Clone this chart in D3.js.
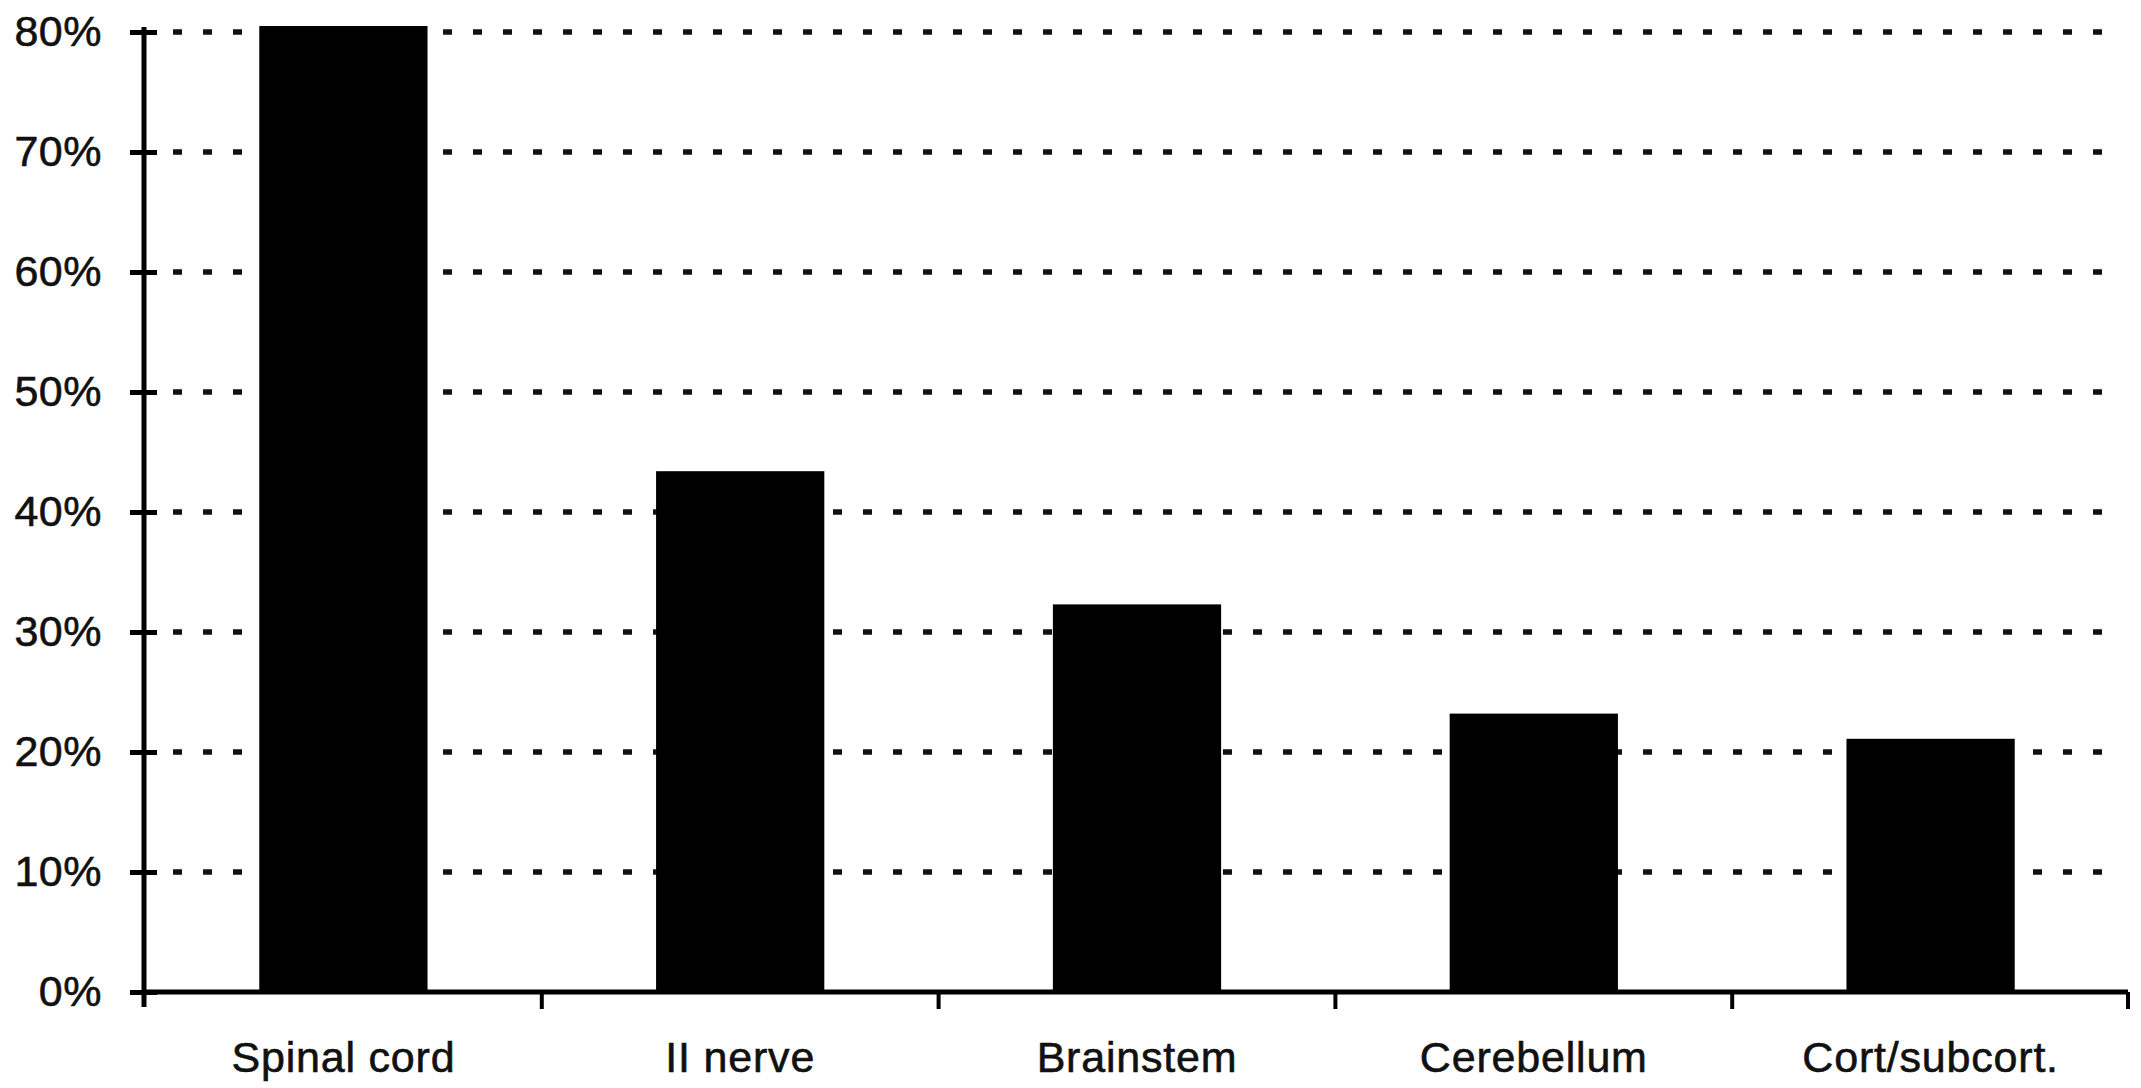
<!DOCTYPE html>
<html>
<head>
<meta charset="utf-8">
<script src="https://cdn.jsdelivr.net/npm/d3@7"></script>
<style>
  html, body { margin: 0; padding: 0; background: #fff; }
  svg { display: block; }
  text { font-family: "Liberation Sans", Arial, Helvetica, sans-serif; fill: #111; }
</style>
</head>
<body>
<svg id="chart" width="2141" height="1088"></svg>
<script>
const categories = ["Spinal cord", "II nerve", "Brainstem", "Cerebellum", "Cort/subcort."];
const values = [80.5, 43.4, 32.3, 23.2, 21.1];
const yTicks = [0, 10, 20, 30, 40, 50, 60, 70, 80];

(function () {
const svg = d3.select("#chart");
const plotLeft = 144, plotRight = 2128, plotTop = 32, plotBottom = 992;
const gridEnd = 2112;

const x = d3.scaleBand().domain(categories).range([plotLeft + 1, plotRight + 1])
  .paddingInner(0.576).paddingOuter(0.288);
const y = d3.scaleLinear().domain([0, 80]).range([plotBottom, plotTop]);

// dotted gridlines
svg.append("g").selectAll("line").data(yTicks.filter(d => d > 0)).join("line")
  .attr("x1", 173).attr("x2", gridEnd)
  .attr("y1", d => y(d)).attr("y2", d => y(d))
  .attr("stroke", "#111").attr("stroke-width", 5.5)
  .attr("stroke-dasharray", "9,21");

// bars
svg.append("g").selectAll("rect").data(categories).join("rect")
  .attr("x", d => x(d))
  .attr("width", x.bandwidth())
  .attr("y", (d, i) => y(values[i]))
  .attr("height", (d, i) => plotBottom - y(values[i]))
  .attr("fill", "#000");

// y axis
const yAxis = d3.axisLeft(y).tickValues(yTicks).tickFormat(d => d + "%")
  .tickSize(0).tickPadding(42);
const gy = svg.append("g").attr("transform", `translate(${plotLeft},0)`).call(yAxis);
gy.select(".domain").remove();
gy.selectAll("text").attr("font-size", 43).attr("letter-spacing", 0.5)
  .attr("font-family", "Liberation Sans, Arial, sans-serif").attr("fill", "#111")
  .attr("stroke", "#111").attr("stroke-width", 0.6);
gy.selectAll(".tick").append("line")
  .attr("x1", -14).attr("x2", 13).attr("stroke", "#000").attr("stroke-width", 5);
svg.append("line").attr("x1", plotLeft).attr("x2", plotLeft)
  .attr("y1", plotTop - 5).attr("y2", plotBottom + 15)
  .attr("stroke", "#000").attr("stroke-width", 5);

// x axis
svg.append("line").attr("x1", plotLeft).attr("x2", plotRight)
  .attr("y1", plotBottom).attr("y2", plotBottom)
  .attr("stroke", "#000").attr("stroke-width", 5);
const boundaries = categories.map(d => x(d) - x.step() * x.paddingInner() / 2).slice(1)
  .concat([plotRight]);
svg.append("g").selectAll("line").data(boundaries).join("line")
  .attr("x1", d => d).attr("x2", d => d)
  .attr("y1", plotBottom).attr("y2", plotBottom + 17)
  .attr("stroke", "#000").attr("stroke-width", 4);

const xAxis = d3.axisBottom(x).tickSize(0).tickPadding(80);
const gx = svg.append("g").attr("transform", `translate(0,${plotBottom})`).call(xAxis);
gx.select(".domain").remove();
gx.selectAll("text").attr("font-size", 43).attr("letter-spacing", 0.8)
  .attr("font-family", "Liberation Sans, Arial, sans-serif").attr("fill", "#111")
  .attr("stroke", "#111").attr("stroke-width", 0.6)
  .attr("dy", "0");
})();
</script>
</body>
</html>
